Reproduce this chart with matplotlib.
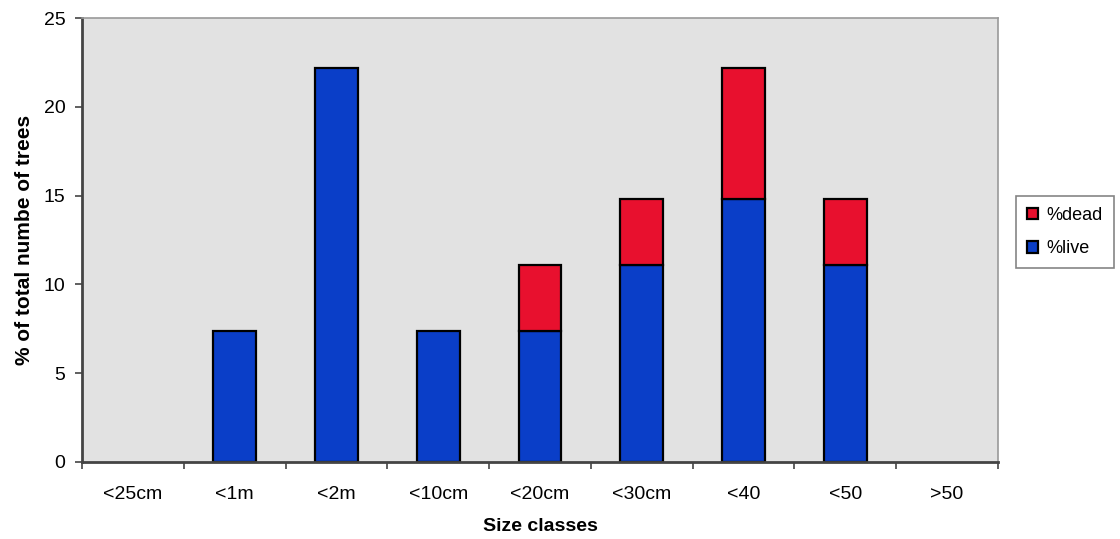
import matplotlib.pyplot as plt
import numpy as np

plt.rcParams['font.family'] = ['Liberation Sans', 'DejaVu Sans']

size_classes = ['<25cm', '<1m', '<2m', '<10cm', '<20cm', '<30cm', '<40', '<50', '>50']
pct_live = [0, 7.4, 22.2, 7.4, 7.4, 11.1, 14.8, 11.1, 0]
pct_dead = [0, 0, 0, 0, 3.7, 3.7, 7.4, 3.7, 0]

fig = plt.figure(figsize=(11.2, 5.39), dpi=100)
ax = fig.add_axes([0.0732, 0.1429, 0.8178, 0.8237])
ax.set_facecolor('#e2e2e2')

x = np.arange(len(size_classes))
live = [v if v > 0 else np.nan for v in pct_live]
dead = [v if v > 0 else np.nan for v in pct_dead]
ax.bar(x, live, width=0.42, color='#0a3ec8', edgecolor='black', linewidth=1.6, label='%live')
ax.bar(x, dead, width=0.42, bottom=pct_live, color='#e8102e', edgecolor='black', linewidth=1.6, label='%dead')

ax.set_xlim(-0.5, len(size_classes) - 0.5)
ax.set_ylim(0, 25)
ax.set_yticks(range(0, 26, 5))
ax.set_xticks(x)
ax.set_xticklabels(size_classes)
ax.set_xticks(np.arange(-0.5, len(size_classes)), minor=True)
ax.tick_params(axis='x', which='major', length=0, pad=17, labelsize=14)
ax.tick_params(axis='x', which='minor', length=5, width=1.2, color='#444444')
ax.tick_params(axis='y', length=5, width=1.2, color='#444444', labelsize=14, pad=7)

for side in ['left', 'bottom']:
    ax.spines[side].set_color('#444444')
    ax.spines[side].set_linewidth(2)
for side in ['top', 'right']:
    ax.spines[side].set_color('#999999')
    ax.spines[side].set_linewidth(1.2)

ax.set_xlabel('Size classes', fontsize=14, fontweight='bold', labelpad=11)
ax.set_ylabel('% of total numbe of trees', fontsize=15, fontweight='bold', labelpad=7)

handles, labels = ax.get_legend_handles_labels()
leg = fig.legend(handles[::-1], labels[::-1], loc='upper left', bbox_to_anchor=(0.907, 0.636),
                 fontsize=13, frameon=True, fancybox=False, edgecolor='#666666',
                 handlelength=0.6, handleheight=0.6, labelspacing=0.9, borderpad=0.6,
                 handletextpad=0.5, borderaxespad=0)
leg.get_frame().set_linewidth(1.2)

fig.savefig('out.png', dpi=100)
